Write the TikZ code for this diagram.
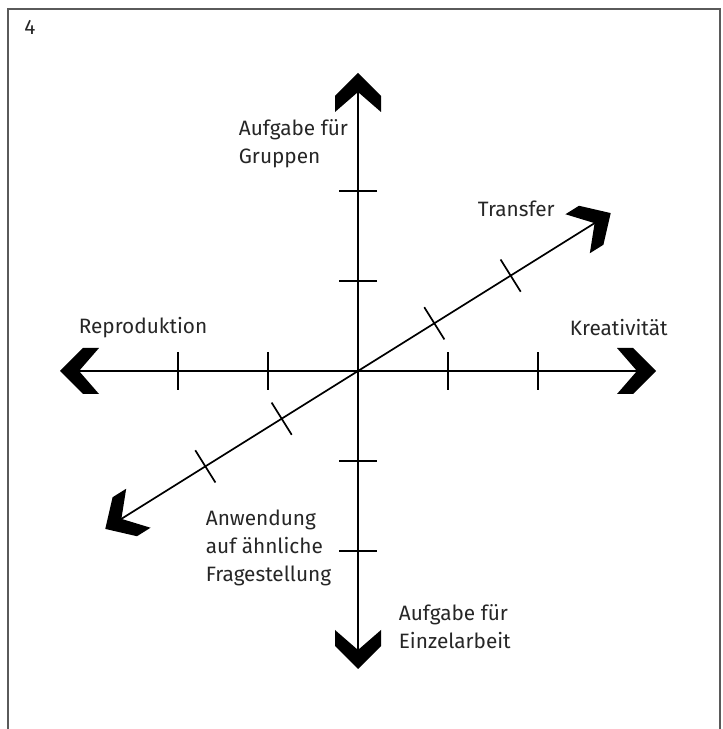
\documentclass[tikz,border=0pt]{standalone}
\usepackage{fontspec}
\setmainfont{Fira Sans}
\usetikzlibrary{positioning}
\definecolor{textgray}{RGB}{38, 38, 38}
\definecolor{framegray}{RGB}{90, 90, 90}

\tikzset{
    chev/.pic={
        \fill (0,0) -- (-23,23) -- (-39,23) -- (-19,0) -- (-39,-23) -- (-23,-23) -- cycle;
    },
    label/.style={
        text=textgray,
        inner sep=0pt,
        align=left,
        anchor=west,
        font=\fontsize{20.8}{28}\selectfont
    }
}

\begin{document}
\begin{tikzpicture}[x=1pt, y=1pt, line width=1.7pt]
            \useasboundingbox (0,0) rectangle (723,729);
            % frame
            \draw[framegray, line width=1.8pt] (8,0) -- (8,720) -- (720,720) -- (720,0);

            \coordinate (O) at (358,358);

            % axes with ticks
            \foreach \a in {0,90,180,270,32,212} {
                \draw (O) -- ++(\a:280);
                \pic[rotate=\a] at ([shift={(\a:298)}]O) {chev};
                \foreach \d in {90,180} {
                    \begin{scope}[shift={(O)}, rotate=\a]
                        \draw (\d,-19) -- (\d,19);
                    \end{scope}
                }
            }

            % labels
            \node (nummer) [label, anchor=center] at (30,702) {4};
            \node (gruppen) [label] at (238,585) {Aufgabe für\\Gruppen};
            \node (transfer) [label] at (477,520) {Transfer};
            \node (repro) [label] at (78,401) {Reproduktion};
            \node (kreativ) [label] at (569,401) {Kreativität};
            \node (anwendung) [label] at (205,181) {Anwendung\\auf ähnliche\\Fragestellung};
            \node (einzel) [label] at (398,102) {Aufgabe für\\Einzelarbeit};
        \end{tikzpicture}
\end{document}
